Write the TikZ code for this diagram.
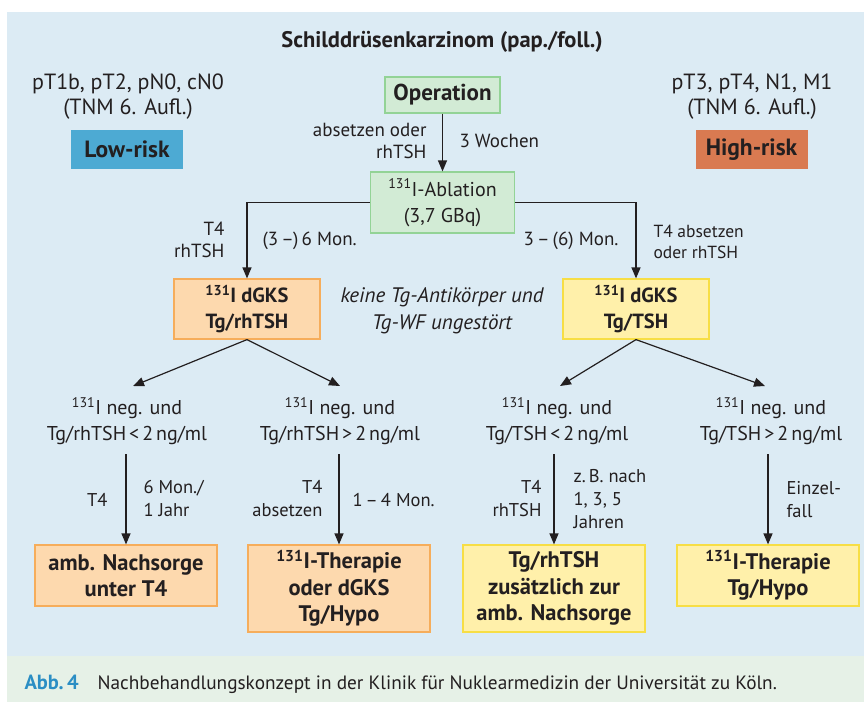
\documentclass[tikz,border=0pt]{standalone}
\usepackage{fontspec}
\setmainfont{PT Sans}
\usetikzlibrary{arrows.meta}
\definecolor{bgblue}{HTML}{DCEBF4}
\definecolor{capgreen}{HTML}{E6F1E7}
\definecolor{lowblue}{HTML}{4DAAD3}
\definecolor{highred}{HTML}{D97A51}
\definecolor{gfill}{HTML}{D2EBD5}
\definecolor{gline}{HTML}{93D396}
\definecolor{ofill}{HTML}{FDD9AE}
\definecolor{oline}{HTML}{F6AD5B}
\definecolor{yfill}{HTML}{FFF0AA}
\definecolor{yline}{HTML}{F7DE45}
\definecolor{abbblue}{HTML}{2B8EC4}
\definecolor{ink}{HTML}{231F20}
\newcommand{\tk}{\kern3pt}
\begin{document}
\begin{tikzpicture}[x=1pt,y=-1pt,
  every node/.style={text=ink},
  txt/.style={align=center, font=\fontsize{22}{25}\selectfont},
  cond/.style={align=center, font=\fontsize{20}{26}\selectfont},
  lbl/.style={font=\fontsize{19}{21.5}\selectfont},
  mlbl/.style={font=\fontsize{18.5}{23}\selectfont},
  box/.style={line width=1.2pt, align=center, inner sep=0pt, font=\fontsize{22.5}{26.5}\selectfont\bfseries},
  gbox/.style={box, fill=gfill, draw=gline},
  obox/.style={box, fill=ofill, draw=oline},
  ybox/.style={box, fill=yfill, draw=yline},
  riskbox/.style={box, minimum width=112pt, minimum height=39pt, font=\fontsize{23.5}{26}\selectfont\bfseries},
  arr/.style={draw=ink, line width=1.2pt, -{Triangle[length=11pt,width=9pt]}}
]
\useasboundingbox (0,0) rectangle (864,702);
\fill[bgblue] (7,12) rectangle (864,656);
\fill[capgreen] (7,656) rectangle (864,702);

% title and risk groups
\node[font=\fontsize{22.5}{25}\selectfont\bfseries] (title) at (442,42) {Schilddrüsenkarzinom (pap./foll.)};
\node[txt] (lt) at (128,97) {pT1b, pT2, pN0, cN0\\(TNM 6. Aufl.)};
\node[txt] (rt) at (752,97) {pT3, pT4, N1, M1\\(TNM 6. Aufl.)};
\node[riskbox, fill=lowblue] (low) at (127,149.5) {Low-risk};
\node[riskbox, fill=highred] (high) at (751.5,149.5) {High-risk};

% main flow
\node[gbox, minimum width=115pt, minimum height=36pt, font=\fontsize{23}{26}\selectfont\bfseries] (op) at (442.5,95) {Operation};
\node[gbox, minimum width=144pt, minimum height=61pt, font=\fontsize{20}{26}\selectfont] (abl) at (442.5,202.5) {\textsuperscript{131}I-Ablation\\(3,7 GBq)};
\draw[arr] (op.south) -- (abl.north);
\node[lbl, align=right, anchor=east] (l1) at (430,141) {absetzen oder\\rhTSH};
\node[lbl, anchor=west] (l2) at (456,141) {3 Wochen};

\node[obox, minimum width=146pt, minimum height=60pt, font=\fontsize{20.5}{26}\selectfont\bfseries] (dl) at (247,309) {\textsuperscript{131}I dGKS\\Tg/rhTSH};
\node[ybox, minimum width=146pt, minimum height=60pt, font=\fontsize{20.5}{26}\selectfont\bfseries] (dr) at (636,309) {\textsuperscript{131}I dGKS\\Tg/TSH};
\draw[arr] (abl.west) -| (dl.north);
\draw[arr] (abl.east) -| (dr.north);
\node[lbl, align=right, anchor=east] (l3) at (228,240) {T4\\rhTSH};
\node[lbl, anchor=west] (l4) at (259,241) {(3\,–)\,6 Mon.};
\node[lbl, anchor=east] (l5) at (622,241) {3\,–\,(6) Mon.};
\node[lbl, align=left, anchor=west, font=\fontsize{17.5}{21.5}\selectfont] (l6) at (650,242) {T4 absetzen\\oder rhTSH};
\node[align=center, font=\fontsize{21}{26.5}\selectfont\itshape] (note) at (442,311) {keine Tg-Antikörper und\\Tg-WF ungestört};

% conditions
\node[cond] (c1) at (127,421) {\textsuperscript{131}I neg. und\\Tg/rhTSH\tk<\tk2\tk ng/ml};
\node[cond] (c2) at (340,421) {\textsuperscript{131}I neg. und\\Tg/rhTSH\tk>\tk2\tk ng/ml};
\node[cond] (c3) at (557,421) {\textsuperscript{131}I neg. und\\Tg/TSH\tk<\tk2\tk ng/ml};
\node[cond] (c4) at (771,421) {\textsuperscript{131}I neg. und\\Tg/TSH\tk>\tk2\tk ng/ml};
\coordinate (a1) at (133,386);
\coordinate (a2) at (340,386);
\coordinate (a3) at (560,386);
\coordinate (a4) at (765,386);
\draw[arr] (dl.south) -- (a1);
\draw[arr] (dl.south) -- (a2);
\draw[arr] (dr.south) -- (a3);
\draw[arr] (dr.south) -- (a4);

% outcomes
\node[obox, minimum width=182pt, minimum height=61pt] (b1) at (126,575.5) {amb. Nachsorge\\unter T4};
\node[obox, minimum width=182pt, minimum height=87pt] (b2) at (339,588.5) {\textsuperscript{131}I-Therapie\\oder dGKS\\Tg/Hypo};
\node[ybox, minimum width=182pt, minimum height=87pt] (b3) at (554,588.5) {Tg/rhTSH\\zusätzlich zur\\amb. Nachsorge};
\node[ybox, minimum width=182pt, minimum height=61pt] (b4) at (768,575.5) {\textsuperscript{131}I-Therapie\\Tg/Hypo};
\coordinate (s1) at (126,454);
\coordinate (s2) at (339,454);
\coordinate (s3) at (554,454);
\coordinate (s4) at (768,454);
\draw[arr] (s1) -- (b1.north);
\draw[arr] (s2) -- (b2.north);
\draw[arr] (s3) -- (b3.north);
\draw[arr] (s4) -- (b4.north);

\node[mlbl, anchor=east] (m1) at (111,500) {T4};
\node[mlbl, align=left, anchor=west] (m2) at (140,498) {6 Mon./\\1 Jahr};
\node[mlbl, align=right, anchor=east] (m3) at (326,499) {T4\\absetzen};
\node[mlbl, anchor=west] (m4) at (349,500) {1\,–\,4 Mon.};
\node[mlbl, align=right, anchor=east] (m5) at (545,499) {T4\\rhTSH};
\node[mlbl, align=left, anchor=west] (m6) at (570,499) {z.\,B. nach\\1, 3, 5\\Jahren};
\node[mlbl, align=left, anchor=west] (m7) at (783,500) {Einzel-\\fall};

% caption
\node[anchor=base west, text=abbblue, font=\fontsize{20.5}{22}\selectfont\bfseries] (abb) at (21,689) {Abb.\,4};
\node[anchor=base west, font=\fontsize{19.3}{22}\selectfont] (cap) at (94,689) {Nachbehandlungskonzept in der Klinik für Nuklearmedizin der Universität zu Köln.};
\end{tikzpicture}
\end{document}
